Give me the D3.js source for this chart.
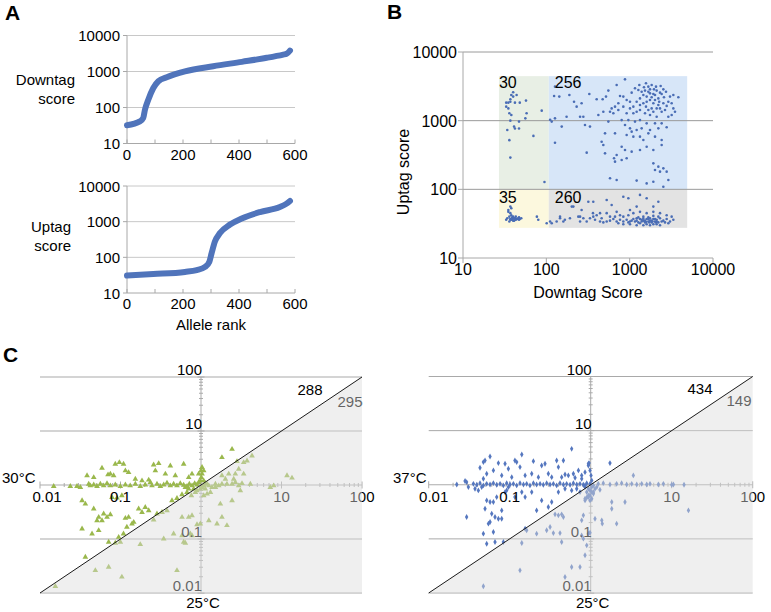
<!DOCTYPE html>
<html><head><meta charset="utf-8">
<script src="https://cdn.jsdelivr.net/npm/d3@7"></script>
<style>
body{margin:0;background:#fff}
text{font-family:"Liberation Sans",Arial,Helvetica,sans-serif;fill:#000}
</style></head>
<body><svg id="chart" width="771" height="612"></svg>
<script>
// ---------- DATA ----------
const rankTicks = [0, 200, 400, 600];
const scoreTicks = [10, 100, 1000, 10000];
// Panel A: allele rank vs score
const downtagCurve = [[0,32],[46,41],[58,51],[64,86],[76,164],[94,347],[112,537],[142,693],[207,1010],[308,1400],[410,1855],[499,2400],[558,2950],[570,3100],[582,3800]];
const uptagCurve = [[0,31],[94,34],[207,39],[249,44],[279,54],[294,75],[302,129],[314,276],[332,478],[368,830],[410,1230],[475,1860],[546,2570],[570,3200],[582,3800]];

// Panel B: quadrant limits and counts
const quadDown = [27, 107, 4900];
const quadUp = [27.5, 100, 4450];
const quadCounts = ["30", "256", "35", "260"];
// Panel B points [downtag, uptag]
const bGreen = [[40,2590],[38,2370],[44,2370],[33,1830],[35,1830],[37,1890],[37,2050],[42,1830],[48,1830],[57,1960],[35,1510],[36,1280],[38,1210],[58,1280],[88,1400],[37,1000],[47,970],[56,1080],[34,730],[41,820],[42,770],[47,770],[70,600],[36,520],[37,290],[95,128],[40,2240],[33,1600]];
const bYellow = [[37,56],[38,53],[35,47],[37,45],[40,40],[42,38],[44,37],[37,37],[38,36],[47,36],[48,37],[50,38],[36,40],[41,35],[39,39],[77,40],[80,36],[33,36],[43,40],[47,39],[34,38],[39,37],[45,37],[41,38],[37,36],[43,36],[40,35],[36,34],[42,36],[46,38],[38,42],[35,50]];
const bBlue = [[127,3130],[124,2290],[143,2240],[189,2370],[215,1890],[231,1600],[265,1790],[328,2440],[402,2050],[474,2050],[520,2240],[555,2740],[698,3310],[879,4000],[1057,2560],[1159,2960],[1306,3310],[1486,3060],[1570,3500],[1675,3130],[1837,3310],[1959,2860],[2109,2740],[2355,3200],[2535,2860],[2729,2640],[3048,2240],[3837,2190],[3342,2370],[2911,1890],[3192,1790],[2780,1640],[2655,1430],[2421,1350],[2109,1510],[1923,1790],[1754,2000],[1600,2240],[1459,2370],[1330,2110],[1213,1890],[1107,1600],[1009,1510],[920,2000],[839,2240],[766,2290],[731,1790],[667,1600],[608,1510],[581,1350],[637,1280],[920,1280],[1107,1280],[1330,1430],[1528,1280],[1754,1210],[2109,1140],[3342,1510],[3499,1350],[3192,1210],[2911,1140],[2014,2370],[2208,2110],[2421,2440],[1923,2440],[1675,2640],[1393,2640],[1271,2800],[1600,1890],[1837,1510],[1459,1790],[1330,1690],[1213,1350],[1009,1890],[839,1600],[731,1430],[483,1350],[421,1210],[278,1140],[254,1140],[175,1140],[127,1080],[116,970],[153,820],[291,865],[334,820],[555,970],[802,1020],[964,1020],[1159,970],[1330,1020],[1600,914],[2014,914],[2421,914],[879,865],[1009,773],[1057,692],[1213,731],[1393,773],[1754,731],[2208,773],[2780,800],[1330,585],[1459,523],[1675,654],[2014,585],[2421,523],[1107,585],[920,618],[506,654],[667,654],[802,418],[879,374],[1057,354],[1330,374],[1600,418],[1923,374],[2421,442],[461,494],[483,442],[127,478],[305,342],[506,334],[698,316],[802,267],[920,283],[649,283],[667,253],[1923,239],[2208,214],[2535,202],[2014,191],[2312,181],[2780,181],[2911,137],[581,145],[698,137],[1213,134],[1600,122],[1923,129],[2535,109],[1754,2500],[2014,2000],[2260,1890],[2312,2560],[2580,2190],[1837,2190],[2208,1690],[1570,1600],[1675,1430],[1923,1350],[2312,1510],[2535,1790],[2070,3130],[1754,2860],[1528,2740],[111,1030]];
const bGrey = [[211,56],[265,50],[319,66],[366,66],[530,70],[608,59],[839,78],[964,74],[1330,83],[1600,74],[2208,66],[1923,56],[1213,56],[1009,50],[698,47],[530,45],[441,45],[402,42],[366,40],[334,38],[278,38],[242,40],[192,38],[167,36],[160,34],[133,34],[116,32],[254,34],[305,34],[384,36],[461,38],[581,40],[667,40],[766,42],[839,40],[964,42],[1107,45],[1330,47],[1600,45],[1923,47],[2312,45],[2780,42],[3192,40],[3342,36],[3048,34],[2780,37],[2535,35],[2312,38],[2109,36],[1923,37],[1754,35],[1600,37],[1459,35],[1330,37],[1213,35],[1107,37],[1159,34],[1271,33],[1393,34],[1528,33],[1675,34],[1837,33],[2014,34],[2208,33],[2421,34],[2655,33],[2911,32],[1009,34],[920,36],[839,34],[766,36],[698,34],[637,37],[581,35],[530,34],[483,33],[441,34],[1271,39],[1459,40],[1675,39],[1923,41],[2208,40],[1213,30],[1459,30],[1754,30],[2109,31],[1330,32],[1600,31],[1923,31],[2312,30],[1009,31],[839,31],[731,32],[146,40],[101,32],[1393,36],[1528,35],[1675,37],[1837,35],[2014,37],[1570,33.5],[1720,33],[1880,34],[2060,33],[1459,37.5],[1754,38],[2109,34],[1213,38],[1057,35],[964,33],[111,34],[146,38],[202,56],[254,40],[363,45]];

// Panel C: [25°C ratio, other-temperature ratio]
const ratioTicks = [0.01, 0.1, 10, 100];
const ratioTickLabels = ["0.01", "0.1", "10", "100"];
const ratio30 = [[0.0148,0.945],[0.0238,0.945],[0.0288,0.945],[0.0317,0.906],[0.0403,1.04],[0.0422,0.972],[0.0465,1.01],[0.0511,0.945],[0.0562,1.04],[0.0618,0.972],[0.068,1.07],[0.0748,0.972],[0.0862,1.01],[0.0995,0.945],[0.115,1.01],[0.132,0.972],[0.153,1.04],[0.176,0.945],[0.203,1.01],[0.235,1.12],[0.246,0.972],[0.284,1.04],[0.313,0.945],[0.344,1.01],[0.378,1.09],[0.416,0.972],[0.457,1.04],[0.503,0.972],[0.553,1.07],[0.609,1.0],[0.67,0.945],[0.717,1.04],[0.773,0.972],[0.834,1.07],[0.892,1.01],[0.936,1.12],[0.981,1.2],[1.01,1.38],[1.03,1.6],[1.0,1.84],[1.03,2.12],[1.08,0.972],[1.13,1.07],
[0.0589,2.06],[0.07,1.55],[0.0748,1.6],[0.0822,1.49],[0.0862,2.44],[0.0968,2.62],[0.109,2.44],[0.115,1.84],[0.0465,1.38],[0.0384,1.49],[0.126,1.71],[0.258,2.37],[0.298,2.51],[0.271,1.84],[0.361,1.6],[0.416,2.27],[0.609,2.44],[0.153,1.29],[0.185,1.2],[0.224,1.24],[0.48,1.49],[0.703,1.38],[0.773,1.6],[0.936,1.6],[1.08,1.84],
[0.0333,0.514],[0.0366,0.446],[0.0465,0.361],[0.0536,0.253],[0.0511,0.22],[0.0618,0.292],[0.0589,0.22],[0.068,0.253],[0.0748,0.284],[0.0784,0.592],[0.0905,0.575],[0.104,0.636],[0.115,0.243],[0.126,0.253],[0.146,0.205],[0.168,0.361],[0.185,0.313],[0.203,0.387],[0.224,0.336],[0.258,0.226],[0.284,0.292],[0.328,0.313],[0.378,0.336],[0.436,0.514],[0.503,0.567],[0.581,0.663],[0.67,0.732],[0.759,0.636],[0.851,0.732],[0.0333,0.154],[0.0443,0.125],[0.0536,0.144],[0.0713,0.0875],[0.109,0.125],[0.12,0.166],[0.139,0.191],[0.0949,0.108],
[0.0155,0.0133],[0.0366,0.0463],[0.0487,0.0262],[0.0713,0.0303],[0.104,0.0198],[0.0862,0.0839],[0.0995,0.0875],[0.176,0.0793],[0.344,0.101],[0.457,0.125],[0.503,0.0262],[0.581,0.116],[0.609,0.0875],[0.639,0.0839],[0.703,0.253],[0.773,0.272],[0.581,0.253],[0.773,0.116],[0.892,0.185],[0.981,0.191],[1.08,0.636],[1.19,0.682],[1.31,0.732],[1.51,0.906],[1.66,0.972],[1.82,1.04],[2.1,1.04],[2.43,1.04],[2.67,1.12],[2.94,0.972],[3.23,1.07],[1.74,0.446],[1.82,0.253],[2.1,0.178],[2.43,0.514],[3.08,0.786],[2.67,1.6],[1.82,1.49],[2.01,1.29],[2.21,1.6],[2.55,1.29],[2.94,1.97],[3.39,1.6],[3.73,2.81],[4.3,3.48],[2.43,4.61],[2.8,2.73],[3.39,2.62],[1.82,3.24],[4.1,1.04],[7.26,0.906],[8.0,0.972],[11.7,1.49],[13.5,1.35],[1.58,0.191],[1.25,0.22],[0.737,0.125],
[0.639,0.906],[0.703,0.844],[0.811,0.844],[0.892,0.786],[0.981,0.844],[1.03,0.906],[1.13,0.844],[1.25,0.972],[1.37,0.906],[1.51,1.04],[1.08,1.2],[1.19,1.04]];
const ratio37 = [[0.0222,1.01],[0.0294,1.12],[0.0356,1.04],[0.0392,1.0],[0.043,1.07],[0.0473,0.972],[0.052,1.04],[0.0572,1.01],[0.0629,1.07],[0.0691,1.0],[0.076,1.04],[0.0835,0.972],[0.0918,1.07],[0.101,1.01],[0.111,1.04],[0.122,0.972],[0.134,1.07],[0.148,1.01],[0.162,1.04],[0.178,0.972],[0.196,1.07],[0.215,1.01],[0.237,1.04],[0.26,1.0],[0.286,1.07],[0.315,1.01],[0.346,1.04],[0.38,0.972],[0.418,1.07],[0.46,1.01],[0.505,1.04],[0.556,1.0],[0.611,1.07],[0.672,1.01],[0.738,1.04],[0.812,1.0],[0.893,1.07],[0.981,1.04],[1.03,1.2],[1.01,1.49],[0.981,1.84],[0.936,2.27],[0.954,2.51],[1.03,0.906],[1.08,0.972],
[1.24,1.04],[1.43,1.07],[1.73,1.01],[2.09,1.04],[2.41,1.07],[2.78,1.01],[3.21,1.04],[3.7,1.01],[4.26,1.04],[4.91,1.01],[5.4,1.04],[6.84,1.01],[7.89,1.04],[10.5,1.01],[10,1.0],[14.2,1.0],
[0.0281,1.17],[0.043,2.06],[0.0473,2.62],[0.0496,2.81],[0.0572,3.33],[0.0629,1.84],[0.0725,2.51],[0.0876,2.44],[0.0963,1.97],[0.116,2.81],[0.122,2.62],[0.141,3.63],[0.134,2.12],[0.155,1.49],[0.187,1.6],[0.196,2.73],[0.248,2.27],[0.273,2.44],[0.3,1.6],[0.38,2.81],[0.399,2.12],[0.46,2.81],[0.482,1.55],[0.53,1.49],[0.582,4.61],[0.611,1.6],[0.705,1.84],[0.774,1.49],[0.851,1.71],[0.936,2.44],[1.73,2.51],[3.36,1.49],[0.0473,1.29],[0.052,1.6],[0.0797,1.49],[0.106,1.38],[0.226,1.38],[0.33,1.38],[0.438,1.38],[0.641,1.35],[0.774,1.29],
[0.0294,0.253],[0.0473,0.125],[0.0496,0.361],[0.052,0.514],[0.0572,0.479],[0.0629,0.479],[0.06,0.292],[0.0659,0.253],[0.0725,0.236],[0.0797,0.236],[0.0572,0.205],[0.0546,0.191],[0.0629,0.134],[0.052,0.0815],[0.0659,0.0875],[0.0835,0.0875],[0.0691,0.592],[0.0876,0.732],[0.0918,0.786],[0.116,0.592],[0.141,0.732],[0.155,0.592],[0.187,0.732],[0.215,0.336],[0.248,0.514],[0.3,0.387],[0.33,0.479],[0.399,0.732],[0.482,0.844],[0.582,0.786],[0.672,0.844],[0.738,0.732],[0.851,0.906],[0.041,0.786],[0.0451,0.906],[0.0373,0.844],[0.0309,0.906],[0.0797,0.336],[0.0963,0.906],
[0.0473,0.0133],[0.134,0.0262],[0.141,0.0839],[0.155,0.154],[0.162,0.144],[0.215,0.125],[0.286,0.144],[0.315,0.166],[0.346,0.128],[0.418,0.128],[0.438,0.0875],[0.482,0.0198],[0.582,0.0303],[0.738,0.0303],[0.774,0.116],[0.812,0.101],[0.851,0.0497],[0.893,0.076],[0.936,0.125],[0.981,0.13],[0.774,0.22],[0.812,0.272],[0.363,0.284],[0.399,0.272],[0.438,0.284],[0.46,0.253],[0.851,0.514],[0.893,0.575],[0.936,0.592],[0.981,0.636],[1.08,0.732],[1.13,0.844],[1.19,0.906],[1.3,0.809],[1.13,0.236],[1.37,0.22],[1.39,0.191],[1.82,0.479],[1.82,0.361],[2.09,0.191],[2.65,0.479],[16.1,0.336],
[0.851,0.972],[0.936,0.844],[0.981,0.786],[1.03,0.732],[1.08,0.682],[0.893,0.732],[0.936,0.636],[1.03,0.552],[0.981,0.514],[0.851,0.552]];
const countsC30 = ["288", "295"];
const countsC37 = ["434", "149"];

// ---------- DRAWING ----------
const svg = d3.select("#chart");

// Panel letters
[["A",5,20],["B",387,19],["C",3,362]].forEach(([t,x,y]) =>
  svg.append("text").attr("x",x).attr("y",y).attr("font-size",21).attr("font-weight","bold").text(t));

// ----- Panel A -----
function rankPanel(curve, yTop, yBot, titleLines, titleRight, titleBase) {
  const x = d3.scaleLinear().domain([0,600]).range([127,295]);
  const y = d3.scaleLog().domain([10,10000]).range([yBot,yTop]);
  const g = svg.append("g");
  g.selectAll(".grid").data(scoreTicks.slice(1)).join("line")
    .attr("x1",x(0)).attr("x2",x(600)).attr("y1",d=>y(d)).attr("y2",d=>y(d))
    .attr("stroke","#c8c8c8");
  g.append("line").attr("x1",x(0)).attr("x2",x(0)).attr("y1",y(10000)).attr("y2",y(10)).attr("stroke","#a8a8a8");
  g.append("line").attr("x1",x(0)).attr("x2",x(600)).attr("y1",y(10)).attr("y2",y(10)).attr("stroke","#a8a8a8");
  g.selectAll(".yt").data(scoreTicks).join("line")
    .attr("x1",x(0)-4).attr("x2",x(0)).attr("y1",d=>y(d)).attr("y2",d=>y(d)).attr("stroke","#a8a8a8");
  g.selectAll(".xt").data(d3.range(0,601,100)).join("line")
    .attr("x1",d=>x(d)).attr("x2",d=>x(d)).attr("y1",y(10)).attr("y2",y(10)-4).attr("stroke","#a8a8a8");
  g.selectAll(".yl").data(scoreTicks).join("text")
    .attr("x",x(0)-7).attr("y",d=>y(d)+5.5).attr("text-anchor","end").attr("font-size",15).text(d=>d);
  g.selectAll(".xl").data(rankTicks).join("text")
    .attr("x",d=>x(d)).attr("y",y(10)+16).attr("text-anchor","middle").attr("font-size",15).text(d=>d);
  g.append("path").datum(curve)
    .attr("d", d3.line().x(d=>x(d[0])).y(d=>y(d[1])).curve(d3.curveMonotoneX))
    .attr("fill","none").attr("stroke","#5074bb").attr("stroke-width",6).attr("stroke-linecap","round");
  titleLines.forEach((t,i) => g.append("text").attr("x",titleRight).attr("y",titleBase+i*18.5)
    .attr("text-anchor","end").attr("font-size",15).text(t));
  return x;
}
rankPanel(downtagCurve, 35.5, 143.5, ["Downtag","score"], 75, 85);
const xA = rankPanel(uptagCurve, 186, 293, ["Uptag","score"], 71, 232);
svg.append("text").attr("x",(xA(0)+xA(600))/2).attr("y",330).attr("text-anchor","middle").attr("font-size",15).text("Allele rank");

// ----- Panel B -----
(function(){
  const x = d3.scaleLog().domain([10,10000]).range([463,713]);
  const y = d3.scaleLog().domain([10,10000]).range([258,52]);
  const g = svg.append("g");
  const quads = [
    {x0:quadDown[0],x1:quadDown[1],y0:quadUp[1],y1:quadUp[2],c:"#e8efe5",t:quadCounts[0]},
    {x0:quadDown[1],x1:quadDown[2],y0:quadUp[1],y1:quadUp[2],c:"#d7e6f8",t:quadCounts[1]},
    {x0:quadDown[0],x1:quadDown[1],y0:quadUp[0],y1:quadUp[1],c:"#fcf8de",t:quadCounts[2]},
    {x0:quadDown[1],x1:quadDown[2],y0:quadUp[0],y1:quadUp[1],c:"#e3e3e3",t:quadCounts[3]}];
  g.selectAll(".q").data(quads).join("rect")
    .attr("x",d=>x(d.x0)).attr("width",d=>x(d.x1)-x(d.x0))
    .attr("y",d=>y(d.y1)).attr("height",d=>y(d.y0)-y(d.y1)).attr("fill",d=>d.c);
  g.selectAll(".grid").data(scoreTicks.slice(1)).join("line")
    .attr("x1",x(10)).attr("x2",x(10000)).attr("y1",d=>y(d)).attr("y2",d=>y(d)).attr("stroke","#9a9a9a");
  g.append("line").attr("x1",x(10)).attr("x2",x(10)).attr("y1",y(10000)).attr("y2",y(10)).attr("stroke","#a8a8a8");
  g.append("line").attr("x1",x(10)).attr("x2",x(10000)).attr("y1",y(10)).attr("y2",y(10)).attr("stroke","#a8a8a8");
  g.selectAll(".yt").data(scoreTicks).join("line")
    .attr("x1",x(10)-5).attr("x2",x(10)).attr("y1",d=>y(d)).attr("y2",d=>y(d)).attr("stroke","#a8a8a8");
  g.selectAll(".xt").data(scoreTicks).join("line")
    .attr("x1",d=>x(d)).attr("x2",d=>x(d)).attr("y1",y(10)).attr("y2",y(10)+5).attr("stroke","#a8a8a8");
  g.selectAll(".yl").data(scoreTicks).join("text")
    .attr("x",x(10)-6).attr("y",d=>y(d)+6).attr("text-anchor","end").attr("font-size",16).text(d=>d);
  g.selectAll(".xl").data(scoreTicks).join("text")
    .attr("x",d=>x(d)).attr("y",y(10)+17).attr("text-anchor","middle").attr("font-size",16).text(d=>d);
  const pts = bGreen.concat(bYellow, bBlue, bGrey);
  g.selectAll(".p").data(pts).join("circle")
    .attr("cx",d=>x(d[0])).attr("cy",d=>y(d[1])).attr("r",1.3).attr("fill","#4a6db5");
  g.selectAll(".qt").data(quads).join("text")
    .attr("x",(d,i)=> i%2===0 ? x(d.x0) : x(d.x0)+6)
    .attr("y",(d,i)=> i<2 ? y(d.y1)+12 : y(d.y1)+14)
    .attr("font-size",16).text(d=>d.t);
  g.append("text").attr("x",(x(10)+x(10000))/2).attr("y",298).attr("text-anchor","middle").attr("font-size",16).text("Downtag Score");
  g.append("text").attr("transform","translate(409,172) rotate(-90)").attr("text-anchor","middle").attr("font-size",16).text("Uptag score");
})();

// ----- Panel C -----
function ratioPanel(data, x0, x1, yTop, yBot, tempLabel, tempX, counts, countPos, symbolType, symSize, color, dxFirst) {
  const x = d3.scaleLog().domain([0.01,100]).range([x0,x1]);
  const y = d3.scaleLog().domain([0.01,100]).range([yBot,yTop]);
  const g = svg.append("g");
  const axisC = "#ababab";
  g.selectAll(".grid").data([0.01,0.1,10,100]).join("line")
    .attr("x1",x(0.01)).attr("x2",x(100)).attr("y1",d=>y(d)).attr("y2",d=>y(d)).attr("stroke","#a9a9a9");
  g.append("line").attr("x1",x(0.01)).attr("x2",x(100)).attr("y1",y(1)).attr("y2",y(1)).attr("stroke",axisC);
  g.append("line").attr("x1",x(1)).attr("x2",x(1)).attr("y1",y(100)).attr("y2",y(0.01)).attr("stroke",axisC);
  const minor = [];
  [-2,-1,0,1].forEach(p => d3.range(1,10).forEach(k => minor.push(k*Math.pow(10,p))));
  minor.push(100);
  const isMajor = d => Math.abs(Math.log10(d) - Math.round(Math.log10(d))) < 1e-9;
  g.selectAll(".mx").data(minor).join("line")
    .attr("x1",d=>x(d)).attr("x2",d=>x(d))
    .attr("y1",d=>y(1)-(isMajor(d)?3.5:2)).attr("y2",d=>y(1)+(isMajor(d)?3.5:2))
    .attr("stroke",axisC);
  g.selectAll(".my").data(minor).join("line")
    .attr("y1",d=>y(d)).attr("y2",d=>y(d))
    .attr("x1",d=>x(1)-(isMajor(d)?3.5:2)).attr("x2",d=>x(1)+(isMajor(d)?3.5:2))
    .attr("stroke",axisC);
  g.selectAll(".p").data(data).join("path")
    .attr("transform",d=>`translate(${x(d[0])},${y(d[1])})`)
    .attr("d", d3.symbol().type(symbolType).size(symSize)).attr("fill",color);
  g.selectAll(".xl").data(ratioTicks).join("text")
    .attr("x",(d,i)=>x(d)+(i===0?dxFirst:0)).attr("y",y(1)+17).attr("text-anchor","middle").attr("font-size",15)
    .text((d,i)=>ratioTickLabels[i]);
  g.selectAll(".yl").data(ratioTicks).join("text")
    .attr("x",x(1)+1).attr("y",d=>y(d)-2).attr("text-anchor","end").attr("font-size",15)
    .text((d,i)=>ratioTickLabels[i]);
  g.append("text").attr("x",tempX).attr("y",y(1)-2).attr("font-size",15).text(tempLabel);
  g.append("text").attr("x",x(1)+2).attr("y",608).attr("text-anchor","middle").attr("font-size",15).text("25°C");
  g.append("text").attr("x",countPos[0]).attr("y",countPos[1]).attr("text-anchor","middle").attr("font-size",15).text(counts[0]);
  g.append("text").attr("x",countPos[2]).attr("y",countPos[3]).attr("text-anchor","middle").attr("font-size",15).text(counts[1]);
  g.append("path")
    .attr("d", d3.line()([[x(0.01),y(0.01)],[x(100),y(100)],[x(100),y(0.01)]]) + "Z")
    .attr("fill","#dcdcdc").attr("fill-opacity",0.45);
  g.append("line").attr("x1",x(0.01)).attr("y1",y(0.01)).attr("x2",x(100)).attr("y2",y(100))
    .attr("stroke","#1a1a1a").attr("stroke-width",1);
}
ratioPanel(ratio30, 40, 362, 377, 593, "30°C", 2, countsC30, [310,395,350,407], d3.symbolTriangle, 14, "#9ab84c", 7);
ratioPanel(ratio37, 428.7, 752.7, 376.5, 593, "37°C", 393, countsC37, [700,394,739,406], d3.symbolDiamond, 10, "#5577bf", 5);
</script>
</body></html>
